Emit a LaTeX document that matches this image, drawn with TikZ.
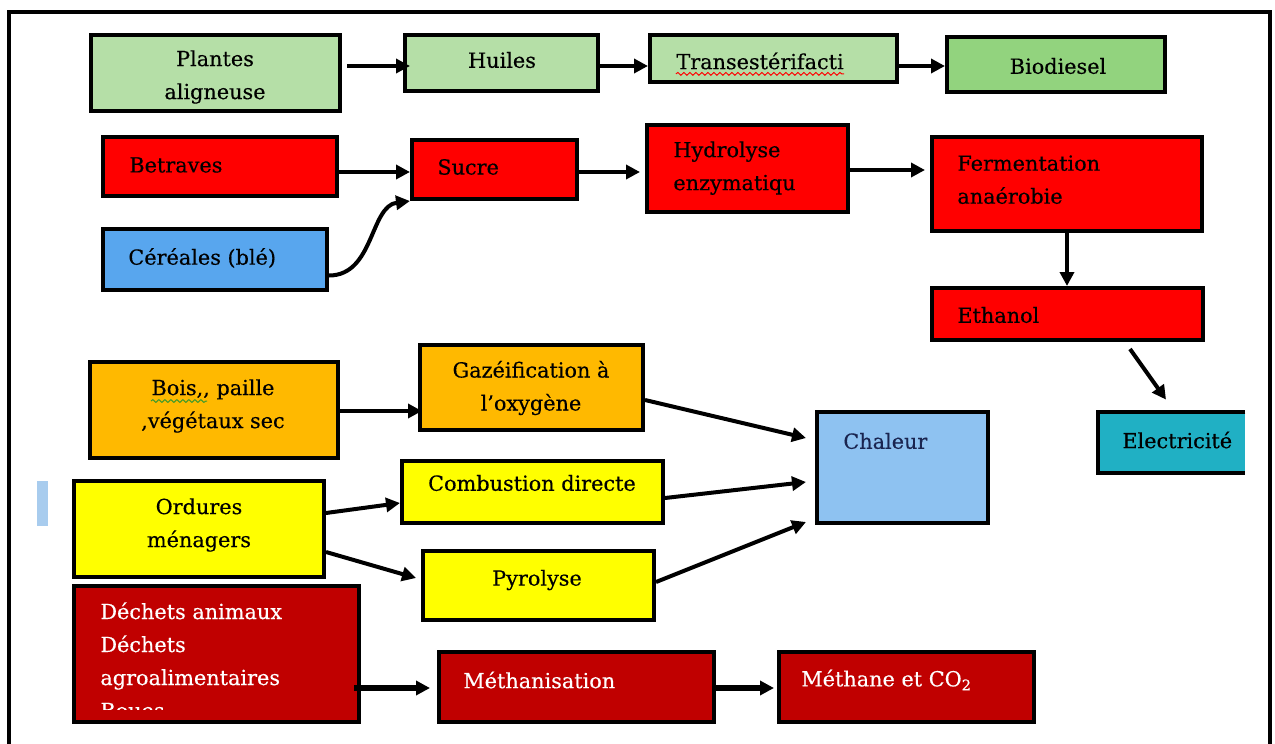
\documentclass[tikz,border=0pt]{standalone}
\usepackage{fontspec}
\setmainfont{DejaVu Serif}[FakeBold=0.35]
\usetikzlibrary{arrows.meta,fit,decorations.pathmorphing}
\definecolor{lgreen}{HTML}{B5DFA7}
\definecolor{mgreen}{HTML}{92D37E}
\definecolor{bred}{HTML}{FF0000}
\definecolor{cblue}{HTML}{58A6EE}
\definecolor{orng}{HTML}{FFB900}
\definecolor{yel}{HTML}{FFFF00}
\definecolor{heat}{HTML}{8EC2F1}
\definecolor{teal}{HTML}{20B0C4}
\definecolor{dred}{HTML}{C00000}
\definecolor{pbar}{HTML}{A8CCEE}
\definecolor{wavyg}{HTML}{3C9A2C}
\definecolor{navy}{HTML}{1A2550}
\begin{document}
\begin{tikzpicture}[x=0.5pt,y=-0.5pt,
  bx/.style={draw=black,line width=2pt,inner sep=0pt,rectangle},
  txt/.style={font=\fontsize{10.4}{16.5}\selectfont,inner sep=0pt,align=center},
  tl/.style={txt,anchor=west,align=left},
  arr/.style={line width=2pt,-{Triangle[length=7pt,width=7pt]}},
  wavy/.style={decorate,decoration={snake,amplitude=0.7pt,segment length=3pt},line width=0.5pt}
]
\useasboundingbox (0,0) rectangle (1275,744);
% frame
\draw[line width=2pt] (9,744) -- (9,12) -- (1270,12) -- (1270,744);
\fill[pbar] (37,481) rectangle (48,526);

% row 1
\node[bx,fill=lgreen,fit={(91,35)(340,111)}] (plantes) {};
\node[txt] (t-plantes) at (215,77) {Plantes\\aligneuse};
\node[bx,fill=lgreen,fit={(405,35)(598,91)}] (huiles) {};
\node[txt] (t-huiles) at (502,60) {Huiles};
\node[bx,fill=lgreen,fit={(650,35)(897,82)}] (trans) {};
\node[tl] (t-trans) at (676,61) {Transestérifacti};
\draw[red,wavy] ([yshift=-2pt]t-trans.south west) -- ([yshift=-2pt]t-trans.south east);
\node[bx,fill=mgreen,fit={(947,37)(1165,92)}] (bio) {};
\node[txt] (t-bio) at (1058,66) {Biodiesel};

% row 2
\node[bx,fill=bred,fit={(103,137)(337,196)}] (betraves) {};
\node[tl] (t-betraves) at (129,165) {Betraves};
\node[bx,fill=bred,fit={(412,140)(577,199)}] (sucre) {};
\node[tl] (t-sucre) at (437,167) {Sucre};
\node[bx,fill=cblue,fit={(103,229)(327,290)}] (cereales) {};
\node[tl] (t-cereales) at (128,258) {Céréales (blé)};
\node[bx,fill=bred,fit={(647,125)(848,212)}] (hydro) {};
\node[txt,anchor=north west,align=left] (t-hydro) at (673,141) {Hydrolyse\\enzymatiqu};
\node[bx,fill=bred,fit={(932,137)(1202,231)}] (ferm) {};
\node[txt,anchor=north west,align=left] (t-ferm) at (957,155) {Fermentation\\anaérobie};
\node[bx,fill=bred,fit={(932,288)(1203,340)}] (ethanol) {};
\node[tl] (t-ethanol) at (957,315) {Ethanol};
\node[fill=teal,inner sep=0pt,fit={(1098,412)(1245,473)}] (elec) {};
\draw[line width=2pt] (elec.north east) -- (elec.north west) -- (elec.south west) -- (elec.south east);
\node[tl] (t-elec) at (1122,440) {Electricité};

% row 3
\node[bx,fill=orng,fit={(90,362)(338,458)}] (bois) {};
\node[txt] (t-bois) at (213,406) {Bois{,}{,} paille\\,végétaux sec};
\draw[wavyg,wavy] (151,401) -- (207,401);
\node[bx,fill=orng,fit={(420,345)(643,430)}] (gaz) {};
\node[txt] (t-gaz) at (531,388) {Gazéification à\\l’oxygène};
\node[bx,fill=heat,fit={(817,412)(988,523)}] (chaleur) {};
\node[tl,text=navy] (t-chaleur) at (843,441) {Chaleur};
\node[bx,fill=yel,fit={(402,461)(663,523)}] (comb) {};
\node[txt] (t-comb) at (532,483) {Combustion directe};
\node[bx,fill=yel,fit={(74,481)(324,577)}] (ordures) {};
\node[txt] (t-ordures) at (199,525) {Ordures\\ménagers};
\node[bx,fill=yel,fit={(423,551)(654,620)}] (pyro) {};
\node[txt] (t-pyro) at (537,580) {Pyrolyse};

% row 4
\node[bx,fill=dred,fit={(74,586)(359,722)}] (dechets) {};
\begin{scope}
\clip (76,588) rectangle (357,709);
\node[txt,align=left,anchor=north west,text=white] (t-dechets) at (100,602) {Déchets animaux\\Déchets\\agroalimentaires\\Boues};
\end{scope}
\node[bx,fill=dred,fit={(439,652)(714,722)}] (meth) {};
\node[tl,text=white] (t-meth) at (463,680) {Méthanisation};
\node[bx,fill=dred,fit={(779,652)(1034,722)}] (methane) {};
\node[tl,text=white] (t-methane) at (801,680) {Méthane et CO\textsubscript{2}};

% connectors
\draw[arr] ([shift={(5,-7)}]plantes.east) -- ([shift={(7,3)}]huiles.west);
\draw[arr] ([shift={(0,3)}]huiles.east) -- ([shift={(0,7.5)}]trans.west);
\draw[arr] ([shift={(0,7.5)}]trans.east) -- ([shift={(0,1.5)}]bio.west);
\draw[arr] ([shift={(0,5.5)}]betraves.east) -- ([shift={(0,2.5)}]sucre.west);
\draw[arr] ([shift={(0,16)}]cereales.east) .. controls +(45,0) and +(-40,5) .. (sucre.south west);
\draw[arr] ([shift={(0,2.5)}]sucre.east) -- ([shift={(-5,3.5)}]hydro.west);
\draw[arr] ([shift={(0,1.5)}]hydro.east) -- ([shift={(-5,-14)}]ferm.west);
\draw[arr] (ferm.south) -- (ferm.south |- ethanol.north);
\draw[arr] ([shift={(62.5,7)}]ethanol.south) -- ([shift={(-5.5,-12)}]elec.north);
\draw[arr] ([shift={(0,1)}]bois.east) -- ([shift={(4,23.5)}]gaz.west);
\draw[arr] ([shift={(0,12.5)}]gaz.east) -- ([shift={(-9,-29.5)}]chaleur.west);
\draw[arr] ([shift={(0,6)}]comb.east) -- ([shift={(-9,14.5)}]chaleur.west);
\draw[arr] ([shift={(0,-3.5)}]pyro.east) -- ([shift={(-9,54.5)}]chaleur.west);
\draw[arr] ([shift={(0,-16)}]ordures.east) -- ([shift={(0,11)}]comb.west);
\draw[arr] ([shift={(0,23)}]ordures.east) -- ([shift={(-5,-7.5)}]pyro.west);
\draw[arr,line width=3pt] ([shift={(-7,34)}]dechets.east) -- ([shift={(-7,1)}]meth.west);
\draw[arr,line width=3pt] ([shift={(0,1)}]meth.east) -- ([shift={(-3,1)}]methane.west);
\end{tikzpicture}
\end{document}
